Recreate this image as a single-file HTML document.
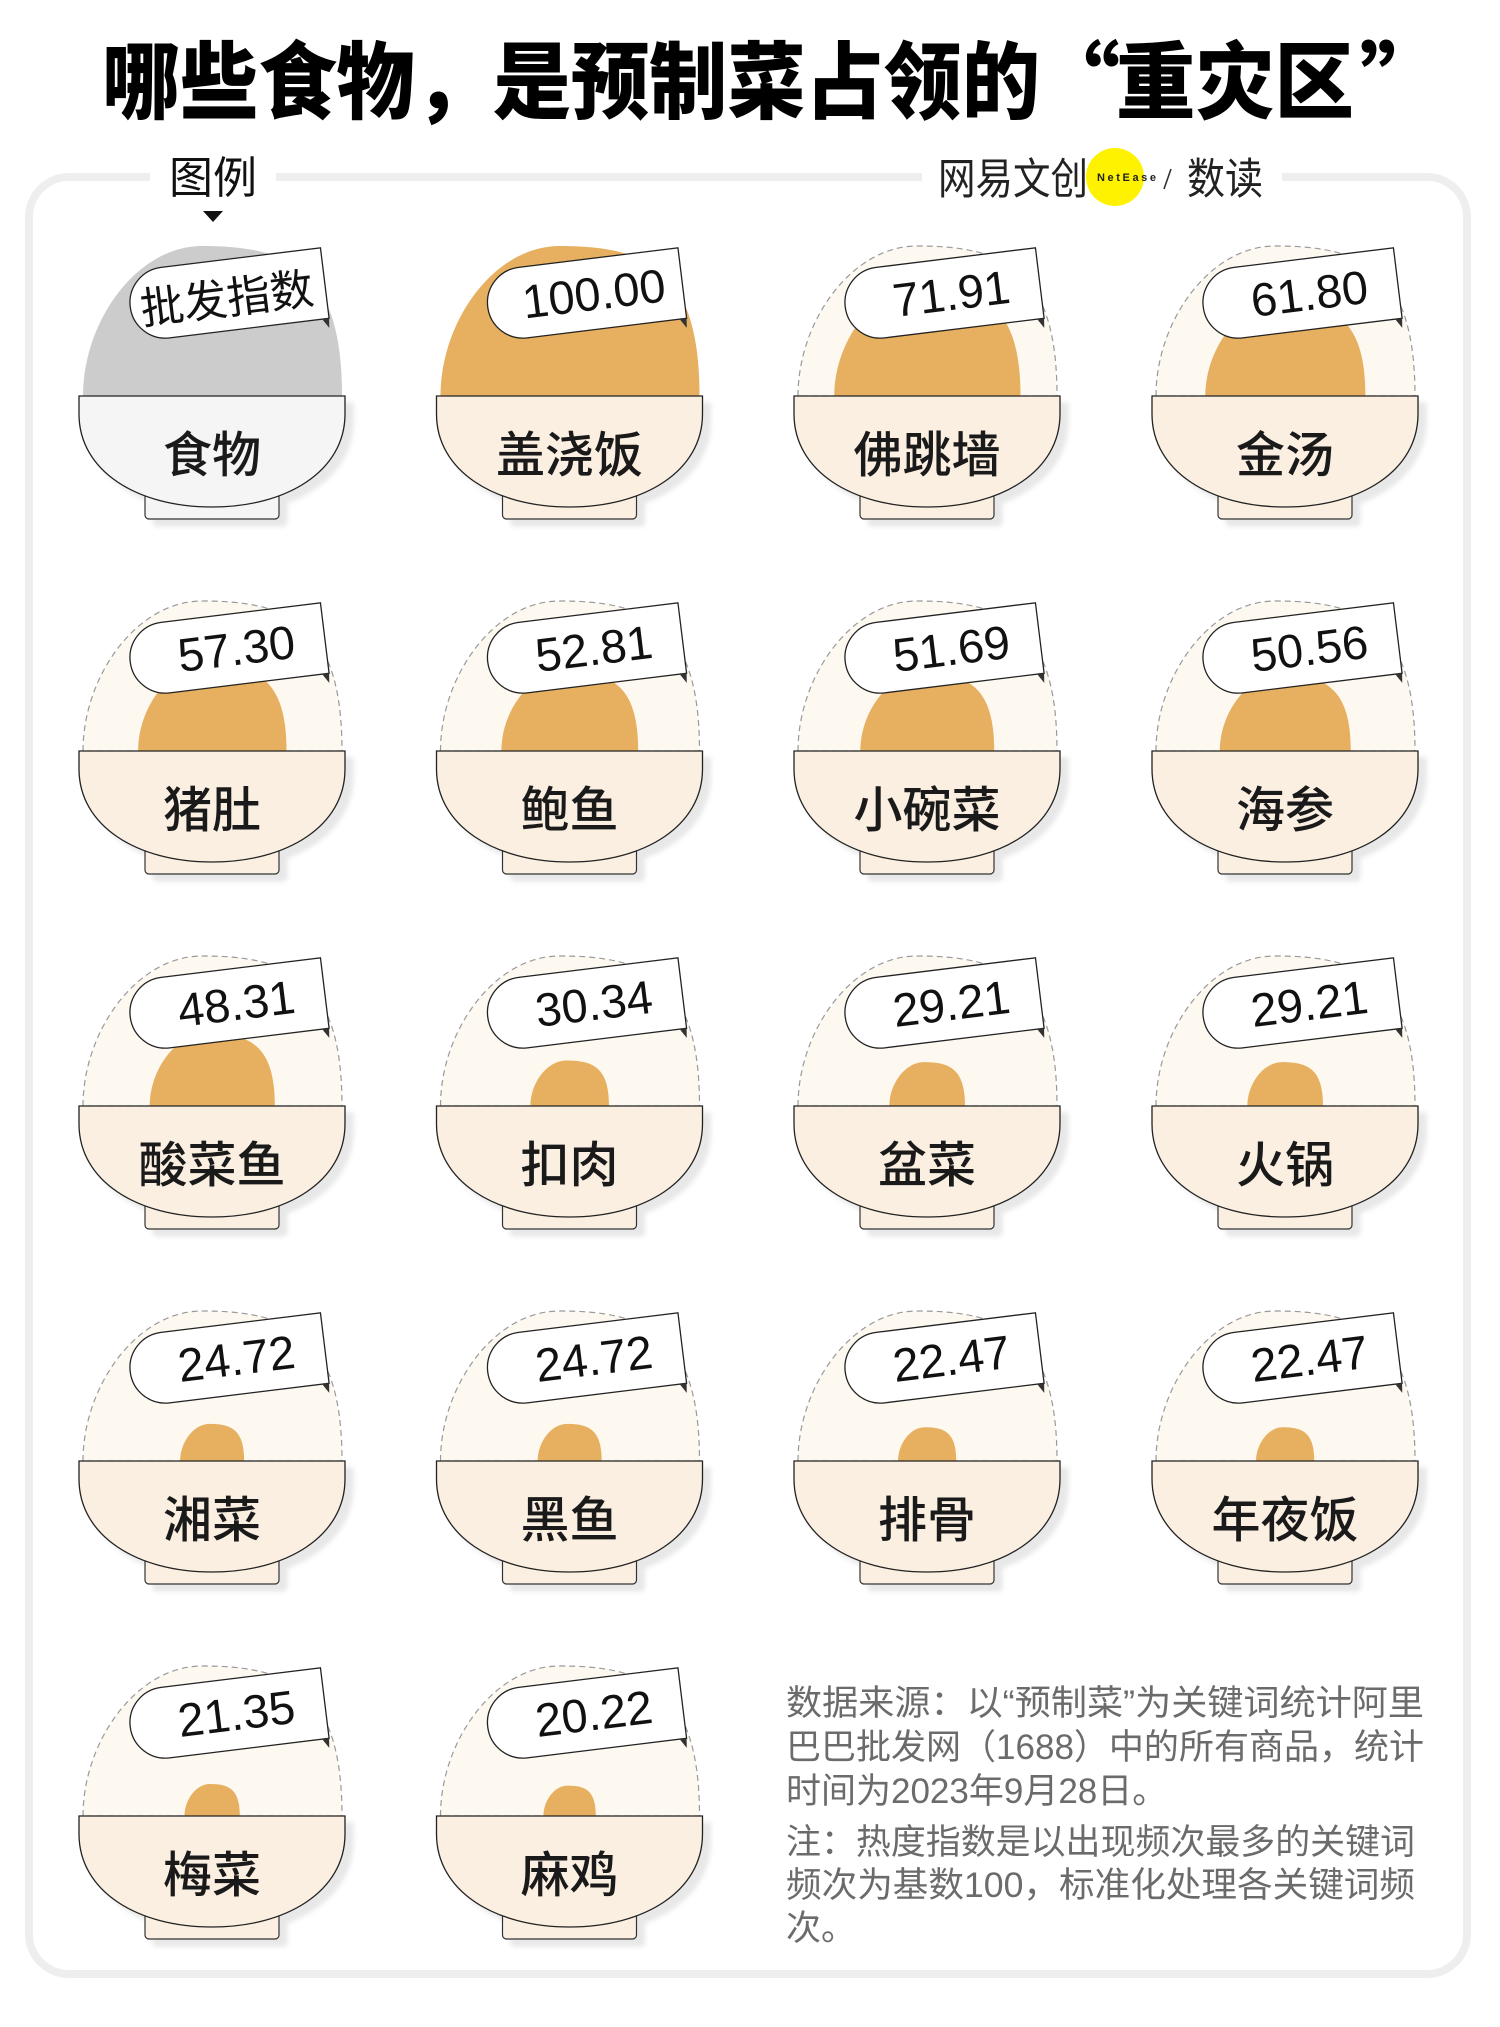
<!DOCTYPE html>
<html><head><meta charset="utf-8"><style>
html,body{margin:0;padding:0;background:#fff;}
body{width:1500px;height:2027px;overflow:hidden;}
svg{display:block;}
.cjk{font-family:"Liberation Sans","Noto Sans CJK SC","WenQuanYi Zen Hei",sans-serif;}
.ttl{font-family:"Noto Sans CJK SC","WenQuanYi Zen Hei",sans-serif;font-weight:900;}
.lbl{font-family:"Liberation Sans","Noto Sans CJK SC",sans-serif;font-weight:500;font-size:49px;fill:#1a1a1a;}
.num{font-family:"Liberation Sans",sans-serif;font-size:47px;fill:#111;}
.note{font-family:"Liberation Sans","Noto Sans CJK SC",sans-serif;font-size:35px;fill:#6b6b6b;}
</style></head><body>
<svg width="1500" height="2027" viewBox="0 0 1500 2027" xmlns="http://www.w3.org/2000/svg">
<defs>
<path id="egg" d="M-129,0 C-129,-75 -75,-150 -10,-150 C80,-150 130,-125 130,0 Z"/>
<path id="bowl" d="M-133,0 H133 V18 C133,75 75,111 0,111 C-75,111 -133,75 -133,18 Z"/>
<path id="tag" d="M-62.5,-35.5 H98 V35.5 H-62.5 A35.5,35.5 0 0 1 -62.5,-35.5 Z"/>
<filter id="sh" x="-20%" y="-20%" width="150%" height="160%">
<feDropShadow dx="8" dy="7" stdDeviation="2.5" flood-color="#000" flood-opacity="0.09"/>
</filter>
<g id="bw">
<rect x="-67" y="95" width="134" height="28" rx="4" fill="currentColor" stroke="#333" stroke-width="1.2"/>
<use href="#bowl" fill="currentColor" stroke="#222" stroke-width="1.3"/>
</g>
</defs>

<!-- Title -->
<text class="ttl" x="102" y="112" font-size="84" textLength="938" lengthAdjust="spacingAndGlyphs" fill="#000">哪些食物，是预制菜占领的</text>
<text class="ttl" x="1120" y="112" font-size="84" text-anchor="end" fill="#000">“</text>
<text class="ttl" x="1116" y="112" font-size="84" textLength="238" lengthAdjust="spacingAndGlyphs" fill="#000">重灾区</text>
<text class="ttl" x="1360" y="112" font-size="84" fill="#000">”</text>

<!-- Card -->
<rect x="29" y="177" width="1438" height="1797" rx="40" fill="none" stroke="#eeeeee" stroke-width="8"/>
<rect x="150" y="168" width="126" height="18" fill="#fff"/>
<rect x="922" y="168" width="360" height="18" fill="#fff"/>

<!-- Legend header -->
<text class="cjk" x="213" y="193" font-size="44" text-anchor="middle" textLength="88" lengthAdjust="spacingAndGlyphs" fill="#111">图例</text>
<polygon points="203,211 223,211 213,222" fill="#111"/>

<!-- Logo -->
<circle cx="1115" cy="177" r="29" fill="#fff200"/>
<text class="cjk" x="938" y="194" font-size="43" textLength="150" lengthAdjust="spacingAndGlyphs" fill="#222">网易文创</text>
<text x="1097" y="181" font-family="Liberation Sans, sans-serif" font-weight="700" font-size="11" textLength="59" lengthAdjust="spacing" fill="#222">NetEase</text>
<line x1="1171" y1="169" x2="1164" y2="189" stroke="#333" stroke-width="1.6"/>
<text class="cjk" x="1187" y="194" font-size="43" textLength="76" lengthAdjust="spacingAndGlyphs" fill="#222">数读</text>

<!-- Legend item -->
<g transform="translate(212,396)">
<use href="#egg" fill="#cccccc"/>
<g transform="translate(15.5,-101) rotate(-7)">
<use href="#tag" fill="#fff" stroke="#222" stroke-width="1.3"/>
<polygon points="91,35.5 98,35.5 97,45" fill="#333"/>
<text class="cjk" x="-1" y="19" font-size="44" text-anchor="middle" textLength="174" lengthAdjust="spacingAndGlyphs" fill="#111">批发指数</text>
</g>
<g filter="url(#sh)" color="#f5f5f5"><use href="#bw"/></g>
<text class="lbl" x="0" y="76" text-anchor="middle">食物</text>
</g>

<!-- 盖浇饭 100 -->
<g transform="translate(569.5,396)">
<use href="#egg" fill="#e6b060"/>
<g transform="translate(15.5,-101) rotate(-7)"><use href="#tag" fill="#fff" stroke="#222" stroke-width="1.3"/><polygon points="91,35.5 98,35.5 97,45" fill="#333"/><text class="num" x="9" y="16" text-anchor="middle">100.00</text></g>
<g filter="url(#sh)" color="#faefe1"><use href="#bw"/></g>
<text class="lbl" x="0" y="76" text-anchor="middle">盖浇饭</text>
</g>

<!-- 佛跳墙 71.91 -->
<g transform="translate(927,396)">
<use href="#egg" fill="#fdf8f0" stroke="#9a9a9a" stroke-width="1.2" stroke-dasharray="6 4"/>
<use href="#egg" fill="#e6b060" transform="scale(0.7191)"/>
<g transform="translate(15.5,-101) rotate(-7)"><use href="#tag" fill="#fff" stroke="#222" stroke-width="1.3"/><polygon points="91,35.5 98,35.5 97,45" fill="#333"/><text class="num" x="9" y="16" text-anchor="middle">71.91</text></g>
<g filter="url(#sh)" color="#faefe1"><use href="#bw"/></g>
<text class="lbl" x="0" y="76" text-anchor="middle">佛跳墙</text>
</g>

<!-- 金汤 61.80 -->
<g transform="translate(1285,396)">
<use href="#egg" fill="#fdf8f0" stroke="#9a9a9a" stroke-width="1.2" stroke-dasharray="6 4"/>
<use href="#egg" fill="#e6b060" transform="scale(0.618)"/>
<g transform="translate(15.5,-101) rotate(-7)"><use href="#tag" fill="#fff" stroke="#222" stroke-width="1.3"/><polygon points="91,35.5 98,35.5 97,45" fill="#333"/><text class="num" x="9" y="16" text-anchor="middle">61.80</text></g>
<g filter="url(#sh)" color="#faefe1"><use href="#bw"/></g>
<text class="lbl" x="0" y="76" text-anchor="middle">金汤</text>
</g>

<!-- Row 2 -->
<g transform="translate(212,751)">
<use href="#egg" fill="#fdf8f0" stroke="#9a9a9a" stroke-width="1.2" stroke-dasharray="6 4"/>
<use href="#egg" fill="#e6b060" transform="scale(0.573)"/>
<g transform="translate(15.5,-101) rotate(-7)"><use href="#tag" fill="#fff" stroke="#222" stroke-width="1.3"/><polygon points="91,35.5 98,35.5 97,45" fill="#333"/><text class="num" x="9" y="16" text-anchor="middle">57.30</text></g>
<g filter="url(#sh)" color="#faefe1"><use href="#bw"/></g>
<text class="lbl" x="0" y="76" text-anchor="middle">猪肚</text>
</g>
<g transform="translate(569.5,751)">
<use href="#egg" fill="#fdf8f0" stroke="#9a9a9a" stroke-width="1.2" stroke-dasharray="6 4"/>
<use href="#egg" fill="#e6b060" transform="scale(0.5281)"/>
<g transform="translate(15.5,-101) rotate(-7)"><use href="#tag" fill="#fff" stroke="#222" stroke-width="1.3"/><polygon points="91,35.5 98,35.5 97,45" fill="#333"/><text class="num" x="9" y="16" text-anchor="middle">52.81</text></g>
<g filter="url(#sh)" color="#faefe1"><use href="#bw"/></g>
<text class="lbl" x="0" y="76" text-anchor="middle">鲍鱼</text>
</g>
<g transform="translate(927,751)">
<use href="#egg" fill="#fdf8f0" stroke="#9a9a9a" stroke-width="1.2" stroke-dasharray="6 4"/>
<use href="#egg" fill="#e6b060" transform="scale(0.5169)"/>
<g transform="translate(15.5,-101) rotate(-7)"><use href="#tag" fill="#fff" stroke="#222" stroke-width="1.3"/><polygon points="91,35.5 98,35.5 97,45" fill="#333"/><text class="num" x="9" y="16" text-anchor="middle">51.69</text></g>
<g filter="url(#sh)" color="#faefe1"><use href="#bw"/></g>
<text class="lbl" x="0" y="76" text-anchor="middle">小碗菜</text>
</g>
<g transform="translate(1285,751)">
<use href="#egg" fill="#fdf8f0" stroke="#9a9a9a" stroke-width="1.2" stroke-dasharray="6 4"/>
<use href="#egg" fill="#e6b060" transform="scale(0.5056)"/>
<g transform="translate(15.5,-101) rotate(-7)"><use href="#tag" fill="#fff" stroke="#222" stroke-width="1.3"/><polygon points="91,35.5 98,35.5 97,45" fill="#333"/><text class="num" x="9" y="16" text-anchor="middle">50.56</text></g>
<g filter="url(#sh)" color="#faefe1"><use href="#bw"/></g>
<text class="lbl" x="0" y="76" text-anchor="middle">海参</text>
</g>

<!-- Row 3 -->
<g transform="translate(212,1106)">
<use href="#egg" fill="#fdf8f0" stroke="#9a9a9a" stroke-width="1.2" stroke-dasharray="6 4"/>
<use href="#egg" fill="#e6b060" transform="scale(0.4831)"/>
<g transform="translate(15.5,-101) rotate(-7)"><use href="#tag" fill="#fff" stroke="#222" stroke-width="1.3"/><polygon points="91,35.5 98,35.5 97,45" fill="#333"/><text class="num" x="9" y="16" text-anchor="middle">48.31</text></g>
<g filter="url(#sh)" color="#faefe1"><use href="#bw"/></g>
<text class="lbl" x="0" y="76" text-anchor="middle">酸菜鱼</text>
</g>
<g transform="translate(569.5,1106)">
<use href="#egg" fill="#fdf8f0" stroke="#9a9a9a" stroke-width="1.2" stroke-dasharray="6 4"/>
<use href="#egg" fill="#e6b060" transform="scale(0.3034)"/>
<g transform="translate(15.5,-101) rotate(-7)"><use href="#tag" fill="#fff" stroke="#222" stroke-width="1.3"/><polygon points="91,35.5 98,35.5 97,45" fill="#333"/><text class="num" x="9" y="16" text-anchor="middle">30.34</text></g>
<g filter="url(#sh)" color="#faefe1"><use href="#bw"/></g>
<text class="lbl" x="0" y="76" text-anchor="middle">扣肉</text>
</g>
<g transform="translate(927,1106)">
<use href="#egg" fill="#fdf8f0" stroke="#9a9a9a" stroke-width="1.2" stroke-dasharray="6 4"/>
<use href="#egg" fill="#e6b060" transform="scale(0.2921)"/>
<g transform="translate(15.5,-101) rotate(-7)"><use href="#tag" fill="#fff" stroke="#222" stroke-width="1.3"/><polygon points="91,35.5 98,35.5 97,45" fill="#333"/><text class="num" x="9" y="16" text-anchor="middle">29.21</text></g>
<g filter="url(#sh)" color="#faefe1"><use href="#bw"/></g>
<text class="lbl" x="0" y="76" text-anchor="middle">盆菜</text>
</g>
<g transform="translate(1285,1106)">
<use href="#egg" fill="#fdf8f0" stroke="#9a9a9a" stroke-width="1.2" stroke-dasharray="6 4"/>
<use href="#egg" fill="#e6b060" transform="scale(0.2921)"/>
<g transform="translate(15.5,-101) rotate(-7)"><use href="#tag" fill="#fff" stroke="#222" stroke-width="1.3"/><polygon points="91,35.5 98,35.5 97,45" fill="#333"/><text class="num" x="9" y="16" text-anchor="middle">29.21</text></g>
<g filter="url(#sh)" color="#faefe1"><use href="#bw"/></g>
<text class="lbl" x="0" y="76" text-anchor="middle">火锅</text>
</g>

<!-- Row 4 -->
<g transform="translate(212,1461)">
<use href="#egg" fill="#fdf8f0" stroke="#9a9a9a" stroke-width="1.2" stroke-dasharray="6 4"/>
<use href="#egg" fill="#e6b060" transform="scale(0.2472)"/>
<g transform="translate(15.5,-101) rotate(-7)"><use href="#tag" fill="#fff" stroke="#222" stroke-width="1.3"/><polygon points="91,35.5 98,35.5 97,45" fill="#333"/><text class="num" x="9" y="16" text-anchor="middle">24.72</text></g>
<g filter="url(#sh)" color="#faefe1"><use href="#bw"/></g>
<text class="lbl" x="0" y="76" text-anchor="middle">湘菜</text>
</g>
<g transform="translate(569.5,1461)">
<use href="#egg" fill="#fdf8f0" stroke="#9a9a9a" stroke-width="1.2" stroke-dasharray="6 4"/>
<use href="#egg" fill="#e6b060" transform="scale(0.2472)"/>
<g transform="translate(15.5,-101) rotate(-7)"><use href="#tag" fill="#fff" stroke="#222" stroke-width="1.3"/><polygon points="91,35.5 98,35.5 97,45" fill="#333"/><text class="num" x="9" y="16" text-anchor="middle">24.72</text></g>
<g filter="url(#sh)" color="#faefe1"><use href="#bw"/></g>
<text class="lbl" x="0" y="76" text-anchor="middle">黑鱼</text>
</g>
<g transform="translate(927,1461)">
<use href="#egg" fill="#fdf8f0" stroke="#9a9a9a" stroke-width="1.2" stroke-dasharray="6 4"/>
<use href="#egg" fill="#e6b060" transform="scale(0.2247)"/>
<g transform="translate(15.5,-101) rotate(-7)"><use href="#tag" fill="#fff" stroke="#222" stroke-width="1.3"/><polygon points="91,35.5 98,35.5 97,45" fill="#333"/><text class="num" x="9" y="16" text-anchor="middle">22.47</text></g>
<g filter="url(#sh)" color="#faefe1"><use href="#bw"/></g>
<text class="lbl" x="0" y="76" text-anchor="middle">排骨</text>
</g>
<g transform="translate(1285,1461)">
<use href="#egg" fill="#fdf8f0" stroke="#9a9a9a" stroke-width="1.2" stroke-dasharray="6 4"/>
<use href="#egg" fill="#e6b060" transform="scale(0.2247)"/>
<g transform="translate(15.5,-101) rotate(-7)"><use href="#tag" fill="#fff" stroke="#222" stroke-width="1.3"/><polygon points="91,35.5 98,35.5 97,45" fill="#333"/><text class="num" x="9" y="16" text-anchor="middle">22.47</text></g>
<g filter="url(#sh)" color="#faefe1"><use href="#bw"/></g>
<text class="lbl" x="0" y="76" text-anchor="middle">年夜饭</text>
</g>

<!-- Row 5 -->
<g transform="translate(212,1816)">
<use href="#egg" fill="#fdf8f0" stroke="#9a9a9a" stroke-width="1.2" stroke-dasharray="6 4"/>
<use href="#egg" fill="#e6b060" transform="scale(0.2135)"/>
<g transform="translate(15.5,-101) rotate(-7)"><use href="#tag" fill="#fff" stroke="#222" stroke-width="1.3"/><polygon points="91,35.5 98,35.5 97,45" fill="#333"/><text class="num" x="9" y="16" text-anchor="middle">21.35</text></g>
<g filter="url(#sh)" color="#faefe1"><use href="#bw"/></g>
<text class="lbl" x="0" y="76" text-anchor="middle">梅菜</text>
</g>
<g transform="translate(569.5,1816)">
<use href="#egg" fill="#fdf8f0" stroke="#9a9a9a" stroke-width="1.2" stroke-dasharray="6 4"/>
<use href="#egg" fill="#e6b060" transform="scale(0.2022)"/>
<g transform="translate(15.5,-101) rotate(-7)"><use href="#tag" fill="#fff" stroke="#222" stroke-width="1.3"/><polygon points="91,35.5 98,35.5 97,45" fill="#333"/><text class="num" x="9" y="16" text-anchor="middle">20.22</text></g>
<g filter="url(#sh)" color="#faefe1"><use href="#bw"/></g>
<text class="lbl" x="0" y="76" text-anchor="middle">麻鸡</text>
</g>

<!-- Notes -->
<text class="note" x="786" y="1715" textLength="638" lengthAdjust="spacingAndGlyphs">数据来源：以“预制菜”为关键词统计阿里</text>
<text class="note" x="786" y="1759" textLength="638" lengthAdjust="spacingAndGlyphs">巴巴批发网（1688）中的所有商品，统计</text>
<text class="note" x="786" y="1803">时间为2023年9月28日。</text>
<text class="note" x="786" y="1854" textLength="629" lengthAdjust="spacingAndGlyphs">注：热度指数是以出现频次最多的关键词</text>
<text class="note" x="786" y="1897" textLength="629" lengthAdjust="spacingAndGlyphs">频次为基数100，标准化处理各关键词频</text>
<text class="note" x="786" y="1940">次。</text>
</svg>
</body></html>
